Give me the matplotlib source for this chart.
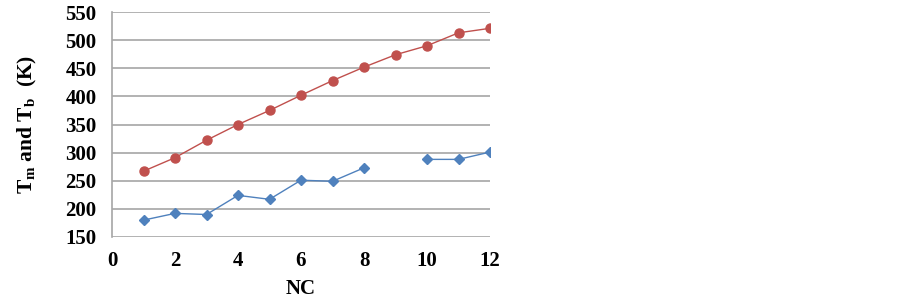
import numpy as np
import matplotlib
matplotlib.use("Agg")
import matplotlib.pyplot as plt

nc = [1, 2, 3, 4, 5, 6, 7, 8, 9, 10, 11, 12]
tb = [267, 291, 322, 350, 375, 402, 428, 452, 474, 490, 513, 521]
tm = [180, 192, 190, 224, 217, 251, 249, 273, np.nan, 288, 288, 301]
xticks = [0, 2, 4, 6, 8, 10, 12]
yticks = [150, 200, 250, 300, 350, 400, 450, 500, 550]

plt.rcParams['font.family'] = ['Liberation Serif', 'DejaVu Serif']
plt.rcParams['mathtext.fontset'] = 'custom'
plt.rcParams['mathtext.rm'] = 'Liberation Serif:bold'
plt.rcParams['mathtext.it'] = 'Liberation Serif:bold'
plt.rcParams['mathtext.bf'] = 'Liberation Serif:bold'

fig = plt.figure(figsize=(9.03, 2.98), dpi=100)
ax = fig.add_axes([112/903, 1-237/298, (490-112)/903, (237-12)/298])

ax.plot(nc, tb, color='#C0504D', lw=1.0, marker='o', ms=6.5, zorder=3)
ax.plot(nc, tm, color='#4F81BD', lw=1.0, marker='D', ms=5.5, zorder=3)

ax.set_xlim(0, 12)
ax.set_ylim(150, 550)
ax.set_xticks(xticks)
ax.set_yticks(yticks)
ax.grid(axis='y', color='#A6A6A6', lw=1.2)
ax.set_axisbelow(True)
for s in ['top', 'right', 'bottom']:
    ax.spines[s].set_visible(False)
ax.spines['left'].set_color('#A6A6A6')
ax.spines['left'].set_linewidth(1.2)
ax.tick_params(length=0, labelsize=15)
ax.tick_params(axis='y', pad=11)
ax.tick_params(axis='x', pad=10)
for lab in ax.get_xticklabels() + ax.get_yticklabels():
    lab.set_fontweight('bold')
ax.set_xlabel('NC', fontsize=15, fontweight='bold', labelpad=6)
ax.set_ylabel(r'$\mathrm{T_m}$ and $\mathrm{T_b}$  (K)', fontsize=15.5, fontweight='bold', labelpad=19)

fig.savefig('out.png', dpi=100)
